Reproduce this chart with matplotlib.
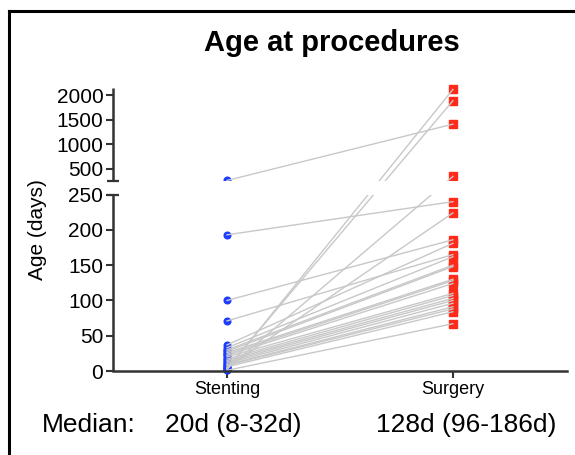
import numpy as np
import matplotlib
matplotlib.use("Agg")
import matplotlib.pyplot as plt
from matplotlib.lines import Line2D

plt.rcParams["font.family"] = ["Liberation Sans", "DejaVu Sans"]

# paired ages (days) per patient: stenting -> surgery
stenting = [258, 193, 100, 71, 2, 4, 3, 5, 37, 33, 30, 28,
            26, 24, 22, 20, 17, 15, 13, 11, 9, 8, 6, 1]
surgery = [1410, 240, 186, 165, 2120, 1890, 340, 224, 181, 162, 150, 148,
           130, 128, 124, 110, 107, 103, 100, 96, 91, 88, 84, 67]
categories = ["Stenting", "Surgery"]
medians = ["20d (8-32d)", "128d (96-186d)"]
yticks = [0, 50, 100, 150, 200, 250, 500, 1000, 1500, 2000]

# broken axis: 0-250 lower segment, small gap, 255+ compressed upper segment
LO, HI = 250, 255
K1, KG, K2 = 0.7056, 2.8, 0.04887
F_LO = LO * K1
F_HI = F_LO + (HI - LO) * KG


def fwd(v):
    v = np.asarray(v, dtype=float)
    return np.where(v <= LO, v * K1,
                    np.where(v <= HI, F_LO + (v - LO) * KG,
                             F_HI + (v - HI) * K2))


def inv(f):
    f = np.asarray(f, dtype=float)
    return np.where(f <= F_LO, f / K1,
                    np.where(f <= F_HI, LO + (f - F_LO) / KG,
                             HI + (f - F_HI) / K2))


fig = plt.figure(figsize=(5.75, 4.55), dpi=100)
ax = fig.add_axes([0.1965, 0.1846, 0.7895, 0.622])
ax.set_yscale("function", functions=(fwd, inv))
ax.set_ylim(0, 2150)
ax.set_xlim(-0.505, 1.505)

x = np.arange(len(categories))
for s, g in zip(stenting, surgery):
    ax.plot(x, [s, g], color="#c8c8c8", lw=1.0, zorder=2.5, clip_on=False)
ax.plot(np.zeros(len(stenting)), stenting, "o", color="#1c3cff", ms=4.8,
        mec="#1c3cff", zorder=2, clip_on=False)
ax.plot(np.ones(len(surgery)), surgery, "s", color="#ff2a1a", ms=5.4,
        mec="#ff2a1a", zorder=2, clip_on=False)

# blank the gap between the segments
ax.axhspan(LO, HI, color="white", zorder=2.8, lw=0)

for sp in ("left", "top", "right"):
    ax.spines[sp].set_visible(False)
ax.spines["bottom"].set_linewidth(1.8)
ax.spines["bottom"].set_color("#333333")

ytr = ax.get_yaxis_transform()
for lo, hi in ((0, LO), (HI, 2150)):
    ax.plot([0, 0], [lo, hi], transform=ytr, color="#333333", lw=1.8,
            clip_on=False, zorder=4, solid_capstyle="butt")
ax.plot([0, 0], [LO, HI], transform=ytr, ls="none", marker="_", ms=9,
        mew=1.6, color="#333333", clip_on=False, zorder=4)

ax.set_yticks(yticks)
ax.set_yticklabels([str(t) for t in yticks])
ax.yaxis.set_minor_locator(matplotlib.ticker.NullLocator())
ax.tick_params(axis="y", length=5, width=1.5, color="#333333",
               labelsize=15, pad=2)
ax.set_xticks(x)
ax.set_xticklabels(categories)
ax.tick_params(axis="x", length=5, width=1.5, color="#333333",
               labelsize=13, pad=2)
ax.set_ylabel("Age (days)", fontsize=15)
ax.yaxis.set_label_coords(-0.145, 0.5)

fig.text(0.578, 0.906, "Age at procedures", fontsize=21, fontweight="bold",
         ha="center", va="center")
fig.text(0.155, 0.066, "Median:", fontsize=19, ha="center", va="center")
for xi, txt in zip([0.405, 0.811], medians):
    fig.text(xi, 0.066, txt, fontsize=19, ha="center", va="center")

# outer frame (top and left edges)
fig.add_artist(Line2D([9 / 575, 1], [1 - 11 / 455] * 2, color="black", lw=2.2))
fig.add_artist(Line2D([9 / 575] * 2, [0, 1 - 11 / 455], color="black", lw=2.2))

fig.savefig("out.png", dpi=100)
